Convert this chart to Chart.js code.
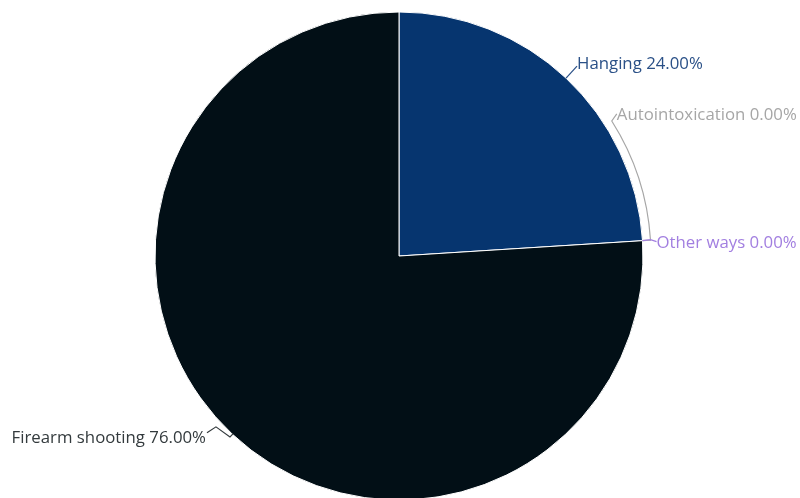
<!DOCTYPE html>
<html>
<head>
<meta charset="utf-8">
<script src="https://cdn.jsdelivr.net/npm/chart.js@4"></script>
<style>
  html, body { margin: 0; padding: 0; background: #fff; }
  #wrap { width: 800px; height: 498px; }
</style>
</head>
<body>
<div id="wrap"><canvas id="pieChart" width="800" height="498"></canvas></div>
<script>
const categorias = ['Hanging', 'Autointoxication', 'Other ways', 'Firearm shooting']
const valores = [24, 0, 0, 76]
const coloresSlice = ['#06356f', '#a6a6a6', '#a07de0', '#020f16']
const coloresTexto = ['#2a5087', '#a6a6a6', '#a27fe0', '#333a3d']

// plugin para dibujar las etiquetas con sus lineas guia
const etiquetasPie = {
    id: 'etiquetasPie',
    afterDatasetsDraw(chart) {
        const ctx = chart.ctx
        const meta = chart.getDatasetMeta(0)
        const total = valores.reduce((a, b) => a + b, 0)
        ctx.save()
        ctx.font = '16.8px "Open Sans", sans-serif'
        ctx.textBaseline = 'middle'
        ctx.lineWidth = 1.2

        meta.data.forEach((arc, i) => {
            const { x, y, outerRadius, startAngle, endAngle } = arc.getProps(['x', 'y', 'outerRadius', 'startAngle', 'endAngle'], true)
            const mid = (startAngle + endAngle) / 2
            const texto = categorias[i] + ' ' + (valores[i] / total * 100).toFixed(2) + '%'
            const px = x + Math.cos(mid) * outerRadius
            const py = y + Math.sin(mid) * outerRadius
            ctx.strokeStyle = coloresTexto[i]
            ctx.fillStyle = coloresTexto[i]
            ctx.beginPath()

            if (i === 0) {
                // Hanging
                ctx.moveTo(px, py)
                ctx.lineTo(px + 11, py - 12)
                ctx.stroke()
                ctx.textAlign = 'left'
                ctx.fillText(texto, px + 11, py - 14)
            } else if (i === 1) {
                // Autointoxication: linea curva que sigue el borde
                const r2 = outerRadius + 8
                const a2 = -Math.PI / 2 + 57.6 * Math.PI / 180
                ctx.moveTo(px, py)
                ctx.lineTo(x + Math.cos(mid) * r2, y + Math.sin(mid) * r2)
                ctx.arc(x, y, r2, mid, a2, true)
                const ex = x + Math.cos(a2) * r2
                const ey = y + Math.sin(a2) * r2
                ctx.lineTo(ex + 5, ey - 7)
                ctx.stroke()
                ctx.textAlign = 'left'
                ctx.fillText(texto, ex + 5, ey - 6)
            } else if (i === 2) {
                // Other ways
                ctx.moveTo(px, py)
                ctx.lineTo(px + 8, py - 1)
                ctx.lineTo(px + 14, py + 1)
                ctx.stroke()
                ctx.textAlign = 'left'
                ctx.fillText(texto, px + 14, py + 3)
            } else {
                // Firearm shooting
                ctx.moveTo(px + 1, py)
                ctx.lineTo(px - 2, py + 3)
                ctx.lineTo(px - 16, py - 7)
                ctx.lineTo(px - 25, py - 1)
                ctx.stroke()
                ctx.textAlign = 'right'
                ctx.fillText(texto, px - 26, py + 4)
            }
        })
        ctx.restore()
    }
}

const ctxPie = document.getElementById('pieChart').getContext('2d')
const pieChart = new Chart(ctxPie, {
    type: 'pie',
    data: {
        labels: categorias,
        datasets: [{
            data: valores,
            backgroundColor: coloresSlice,
            borderColor: '#ffffff',
            borderWidth: 1,
            radius: 244
        }]
    },
    options: {
        responsive: false,
        animation: false,
        layout: {
            padding: { left: 0, right: 2, top: 14, bottom: 0 }
        },
        plugins: {
            legend: { display: false },
            tooltip: { enabled: false }
        }
    },
    plugins: [etiquetasPie]
})
</script>
</body>
</html>
